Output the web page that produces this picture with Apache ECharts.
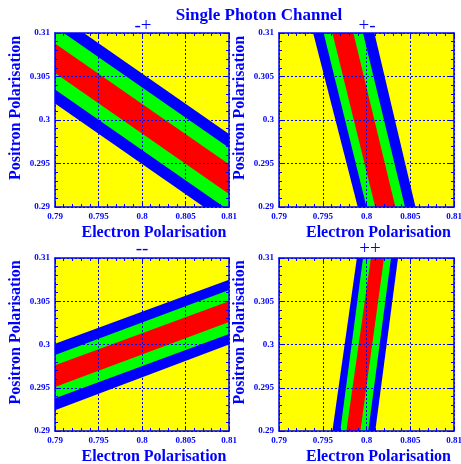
<!DOCTYPE html>
<html><head><meta charset="utf-8">
<script src="https://cdn.jsdelivr.net/npm/echarts@6/dist/echarts.min.js"></script>
<style>html,body{margin:0;padding:0;background:#fff}#c{width:461px;height:464px}</style>
</head><body><div id="c"></div>
<script>
// ---------------- data ----------------
const mainTitle = 'Single Photon Channel';
const panelTitles = ['-+', '+-', '--', '++'];
const xName = 'Electron Polarisation';
const yName = 'Positron Polarisation';
const xRange = [0.79, 0.81];
const yRange = [0.29, 0.31];
const tickStep = 0.005;
const bandColors = ['#0000ff', '#00ff00', '#ff0000']; // outer (3 sigma), 2 sigma, 1 sigma

// Band boundaries, ordered outer-top/left -> outer-bottom/right:
// [blue edge, blue|green, green|red, red|green, green|blue, blue edge]
// Panel '-+': y values at x = 0.79 and x = 0.81
const pmAtXmin = [0.3123, 0.3107, 0.3088, 0.3054, 0.3035, 0.3019];
const pmAtXmax = [0.2984, 0.2968, 0.2949, 0.2915, 0.2896, 0.2880];
// Panel '+-': x values at y = 0.31 and y = 0.29
const mpAtYmax = [0.7939, 0.7951, 0.7961, 0.7985, 0.7996, 0.8009];
const mpAtYmin = [0.7990, 0.8000, 0.8010, 0.8033, 0.8044, 0.8056];
// Panel '--': y values at x = 0.79 and x = 0.81
const mmAtXmin = [0.3001, 0.2988, 0.2976, 0.2951, 0.2938, 0.2924];
const mmAtXmax = [0.3075, 0.3063, 0.3050, 0.3026, 0.3012, 0.3000];
// Panel '++': x values at y = 0.31 and y = 0.29
const ppAtYmax = [0.7989, 0.7996, 0.8005, 0.8020, 0.8028, 0.8036];
const ppAtYmin = [0.7961, 0.7970, 0.7977, 0.7993, 0.8002, 0.8010];

// ---------------- build ----------------
const BLUE = '#0000ff';
const FONT = 'Liberation Serif';

function bandsFromY(a, b) { // boundaries given as y at xmin/xmax
  const out = [];
  for (let k = 0; k < 3; k++) {
    out.push({ value: [xRange[0], a[k], xRange[1], b[k], xRange[1], b[5 - k], xRange[0], a[5 - k]], band: k });
  }
  return out;
}
function bandsFromX(top, bot) { // boundaries given as x at ymax/ymin
  const out = [];
  for (let k = 0; k < 3; k++) {
    out.push({ value: [top[k], yRange[1], top[5 - k], yRange[1], bot[5 - k], yRange[0], bot[k], yRange[0]], band: k });
  }
  return out;
}
const panelData = [
  bandsFromY(pmAtXmin, pmAtXmax),
  bandsFromX(mpAtYmax, mpAtYmin),
  bandsFromY(mmAtXmin, mmAtXmax),
  bandsFromX(ppAtYmax, ppAtYmin)
];

const grids = [
  { left: 55, top: 33, width: 174, height: 174 },
  { left: 279, top: 33, width: 175, height: 174 },
  { left: 55, top: 258, width: 174, height: 173 },
  { left: 279, top: 258, width: 175, height: 173 }
];
const titlePos = [[138, 12], [362, 12], [137, 235], [365, 235]];

const option = {
  animation: false,
  backgroundColor: '#ffffff',
  title: [
    { text: mainTitle, left: 254, top: 2, textAlign: 'center',
      textStyle: { fontFamily: FONT, fontWeight: 'bold', fontSize: 17, color: BLUE } }
  ].concat(panelTitles.map((t, i) => ({
    text: t, left: titlePos[i][0], top: titlePos[i][1], textAlign: 'center',
    textStyle: { fontFamily: FONT, fontWeight: 'normal', fontSize: 19, color: BLUE }
  }))),
  grid: grids.map(g => Object.assign({ show: true, backgroundColor: '#ffff00', borderWidth: 0, outerBoundsMode: 'none', containLabel: false }, g)),
  xAxis: [],
  yAxis: [],
  series: []
};

const tickCommon = {
  axisLine: { show: true, onZero: false, lineStyle: { color: BLUE, width: 1.5 } },
  axisTick: { show: true, inside: true, length: 5, lineStyle: { color: BLUE, width: 1 } },
  minorTick: { show: true, splitNumber: 5, length: 3, lineStyle: { color: BLUE, width: 1 } },
  z: 5
};

grids.forEach((g, i) => {
  // bottom x
  option.xAxis.push(Object.assign({}, tickCommon, {
    type: 'value', gridIndex: i, position: 'bottom', min: xRange[0], max: xRange[1], interval: tickStep,
    name: xName, nameLocation: 'middle', nameGap: 18,
    nameTextStyle: { fontFamily: FONT, fontWeight: 'bold', fontSize: 16, color: BLUE, padding: [0, 0, 0, 24] },
    axisLabel: { show: true, margin: 5, fontFamily: FONT, fontWeight: 'bold', fontSize: 9, color: BLUE,
      showMinLabel: true, showMaxLabel: true, hideOverlap: false },
    splitLine: { show: true, lineStyle: { color: BLUE, width: 1, type: [2, 2] } }
  }));
  // top x (mirror)
  option.xAxis.push(Object.assign({}, tickCommon, {
    type: 'value', gridIndex: i, position: 'top', min: xRange[0], max: xRange[1], interval: tickStep,
    axisLabel: { show: false }, splitLine: { show: false }
  }));
  // left y
  option.yAxis.push(Object.assign({}, tickCommon, {
    type: 'value', gridIndex: i, position: 'left', min: yRange[0], max: yRange[1], interval: tickStep,
    name: yName, nameLocation: 'middle', nameGap: 31,
    nameTextStyle: { fontFamily: FONT, fontWeight: 'bold', fontSize: 16, color: BLUE, padding: [0, 0, 0, 24] },
    axisLabel: { show: true, margin: 5, fontFamily: FONT, fontWeight: 'bold', fontSize: 9, color: BLUE },
    splitLine: { show: true, lineStyle: { color: BLUE, width: 1, type: [2, 2] } }
  }));
  // right y (mirror)
  option.yAxis.push(Object.assign({}, tickCommon, {
    type: 'value', gridIndex: i, position: 'right', min: yRange[0], max: yRange[1], interval: tickStep,
    axisLabel: { show: false }, splitLine: { show: false }
  }));

  option.series.push({
    type: 'custom',
    xAxisIndex: i * 2,
    yAxisIndex: i * 2,
    clip: true,
    z: 2,
    encode: { x: [0, 2, 4, 6], y: [1, 3, 5, 7] },
    data: panelData[i],
    renderItem: function (params, api) {
      const pts = [];
      for (let j = 0; j < 4; j++) {
        pts.push(api.coord([api.value(j * 2), api.value(j * 2 + 1)]));
      }
      const item = panelData[i][params.dataIndex];
      return {
        type: 'polygon',
        shape: { points: pts },
        style: { fill: bandColors[item.band], stroke: null },
        silent: true
      };
    }
  });
});

const chart = echarts.init(document.getElementById('c'), null, { renderer: 'canvas' });
chart.setOption(option);
</script>
</body></html>
